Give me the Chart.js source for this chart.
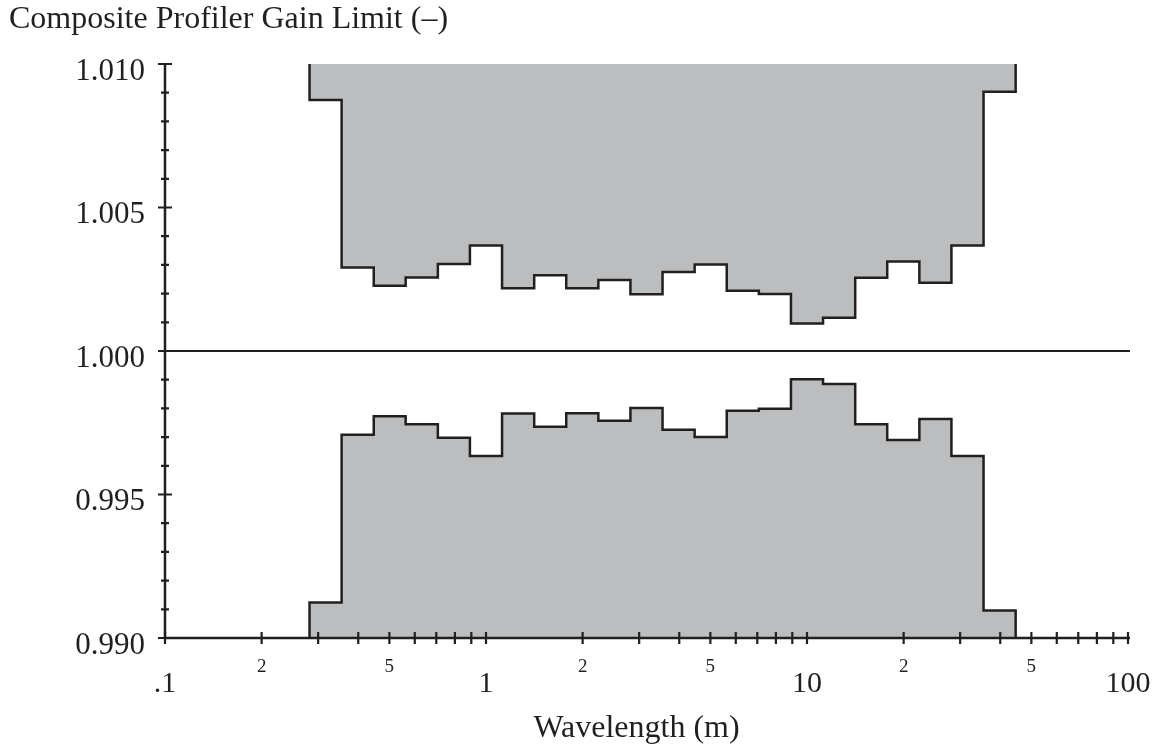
<!DOCTYPE html>
<html>
<head>
<meta charset="utf-8">
<title>Composite Profiler Gain Limit</title>
<script src="https://cdn.jsdelivr.net/npm/chart.js@4.4.1/dist/chart.umd.min.js"></script>
<style>
    html, body { margin: 0; padding: 0; background: #fff; }
    canvas { display: block; }
</style>
</head>
<body>
<canvas id="gainChart" width="1156" height="746"></canvas>
<script>
// wavelength bin edges (m), ten bins per decade
const binEdges = [0.282, 0.355, 0.447, 0.562, 0.708, 0.891, 1.122, 1.413, 1.778, 2.239, 2.818,
    3.548, 4.467, 5.623, 7.079, 8.913, 11.22, 14.13, 17.78, 22.39, 28.18, 35.48, 44.67];

// gain limit per bin, upper and lower band
const upperLimit = [1.00875, 1.00291, 1.00227, 1.00256, 1.00303, 1.00368, 1.00219, 1.00264,
    1.00219, 1.00247, 1.00198, 1.00275, 1.00301, 1.00210, 1.00199, 1.00096, 1.00116, 1.00255,
    1.00312, 1.00238, 1.00368, 1.00903];
const lowerLimit = [0.99124, 0.99708, 0.99773, 0.99745, 0.99698, 0.99634, 0.99782, 0.99736,
    0.99783, 0.99757, 0.99801, 0.99726, 0.99700, 0.99792, 0.99799, 0.99902, 0.99885, 0.99745,
    0.99690, 0.99763, 0.99634, 0.99096];

const yMin = 0.990;
const yMax = 1.010;
const yMajorTicks = [0.990, 0.995, 1.000, 1.005, 1.010];
const yMajorLabels = ["0.990", "0.995", "1.000", "1.005", "1.010"];

const xMin = 0.1;
const xMax = 100;
const xMajorTicks = [0.1, 1, 10, 100];
const xMajorLabels = [".1", "1", "10", "100"];
const xMinorLabelTicks = [0.2, 0.5, 2, 5, 20, 50];
const xMinorLabels = ["2", "5", "2", "5", "2", "5"];

const ink = "#231f20";
const shade = "#bcbdbf";
const serif = "'Liberation Serif', 'DejaVu Serif', serif";

// outline of one band: off the base at the first edge, across every bin, back to the base
function stepPoints(values, base) {
    const last = binEdges.length - 1;
    const pts = [{ x: binEdges[0], y: base }];
    values.forEach((v, i) => pts.push({ x: binEdges[i], y: v }));
    pts.push({ x: binEdges[last], y: values[values.length - 1] });
    pts.push({ x: binEdges[last], y: base });
    return pts;
}

// minor tick positions: 2..9 in every decade
const xMinorTicks = [];
[0.1, 1, 10].forEach(d => {
    for (let k = 2; k <= 9; k++) xMinorTicks.push(+(d * k).toFixed(3));
});

const axesPlugin = {
    id: "paperAxes",
    afterDatasetsDraw(chart) {
        const { ctx, chartArea: area, scales: { x, y } } = chart;
        const left = area.left;
        const bottom = y.getPixelForValue(yMin);
        const top = y.getPixelForValue(yMax);
        const right = x.getPixelForValue(xMax);

        ctx.save();
        ctx.strokeStyle = ink;
        ctx.lineCap = "butt";

        // axes and the unity line
        ctx.lineWidth = 2.5;
        ctx.beginPath();
        ctx.moveTo(left, top - 1);
        ctx.lineTo(left, bottom);
        ctx.lineTo(right + 2, bottom);
        ctx.stroke();

        ctx.lineWidth = 2.2;
        const yOne = y.getPixelForValue(1.0);
        ctx.beginPath();
        ctx.moveTo(left, yOne);
        ctx.lineTo(right + 2, yOne);
        ctx.stroke();

        // y ticks, crossing the axis
        ctx.beginPath();
        for (let i = 0; i <= 20; i++) {
            const py = y.getPixelForValue(yMin + i * 0.001);
            const len = i % 5 === 0 ? 7 : 4;
            ctx.moveTo(left - len, py);
            ctx.lineTo(left + len, py);
        }
        ctx.stroke();

        // x ticks, crossing the axis
        ctx.beginPath();
        xMajorTicks.concat(xMinorTicks).forEach(v => {
            const px = x.getPixelForValue(v);
            ctx.moveTo(px, bottom - 6);
            ctx.lineTo(px, bottom + 6);
        });
        ctx.stroke();

        ctx.fillStyle = ink;

        // y labels
        ctx.font = "31px " + serif;
        ctx.textAlign = "right";
        ctx.textBaseline = "alphabetic";
        yMajorTicks.forEach((v, i) => {
            ctx.fillText(yMajorLabels[i], left - 20, y.getPixelForValue(v) + 15.5);
        });

        // x labels
        ctx.textAlign = "center";
        ctx.font = "30px " + serif;
        xMajorTicks.forEach((v, i) => {
            ctx.fillText(xMajorLabels[i], x.getPixelForValue(v), bottom + 54);
        });
        ctx.font = "19px " + serif;
        xMinorLabelTicks.forEach((v, i) => {
            ctx.fillText(xMinorLabels[i], x.getPixelForValue(v), bottom + 34);
        });

        // axis titles
        ctx.font = "32px " + serif;
        ctx.fillText("Wavelength (m)", (left + right) / 2 - 10, bottom + 99);
        ctx.textAlign = "left";
        ctx.fillText("Composite Profiler Gain Limit (\u2013)", 9, 28);

        ctx.restore();
    }
};

new Chart(document.getElementById("gainChart"), {
    type: "line",
    data: {
        datasets: [
            {
                label: "Upper limit",
                data: stepPoints(upperLimit, yMax),
                stepped: "before",
                borderColor: ink,
                borderWidth: 2.5,
                backgroundColor: shade,
                fill: "end",
                pointRadius: 0
            },
            {
                label: "Lower limit",
                data: stepPoints(lowerLimit, yMin),
                stepped: "before",
                borderColor: ink,
                borderWidth: 2.5,
                backgroundColor: shade,
                fill: "start",
                pointRadius: 0
            }
        ]
    },
    options: {
        responsive: false,
        animation: false,
        layout: { padding: { left: 165, right: 28, top: 64, bottom: 108 } },
        plugins: {
            legend: { display: false },
            tooltip: { enabled: false }
        },
        scales: {
            x: { type: "logarithmic", min: xMin, max: xMax, display: false },
            y: { type: "linear", min: yMin, max: yMax, display: false }
        }
    },
    plugins: [axesPlugin]
});
</script>
</body>
</html>
